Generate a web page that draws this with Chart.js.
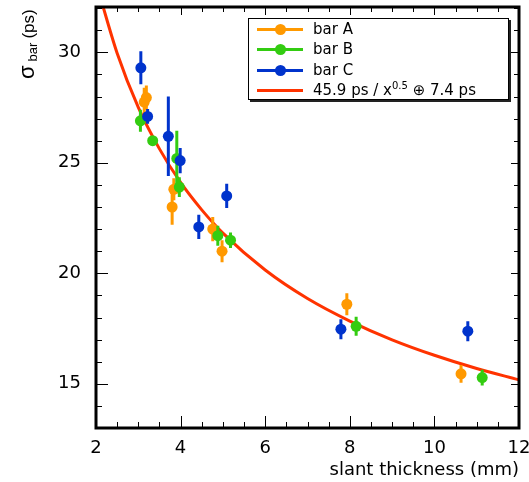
<!DOCTYPE html>
<html>
<head>
<meta charset="utf-8">
<script src="https://cdn.jsdelivr.net/npm/chart.js@4/dist/chart.umd.min.js"></script>
<style>
  html, body { margin: 0; padding: 0; background: #fff; }
  #wrap { position: relative; width: 529px; height: 482px; }
  #ytitle {
    position: absolute; left: 15px; top: 79px;
    transform: rotate(-90deg); transform-origin: left top;
    white-space: nowrap; font-family: 'Liberation Sans', sans-serif; color: #000;
    line-height: 24px;
  }
  #ytitle .sig { font-size: 22px; }
  #ytitle .sub { font-size: 13px; position: relative; top: 3px; margin-left: 4px; }
  #ytitle .ps { font-size: 17px; margin-left: 4px; }
  #leyenda {
    position: absolute; left: 248px; top: 18px; width: 259px; height: 80px;
    border: 1px solid #000; box-shadow: 2px 2px 0 #222; background: #fff;
    font-family: 'DejaVu Sans', sans-serif; font-size: 15px; color: #000;
  }
  #leyenda .fila { position: relative; height: 20.3px; line-height: 20.3px; padding-left: 64px; white-space: nowrap; }
  #leyenda .linea { position: absolute; left: 8px; top: 9px; width: 46px; height: 3px; }
  #leyenda .punto { position: absolute; left: 18px; top: -4px; width: 11px; height: 11px; border-radius: 50%; }
  #leyenda sup { font-size: 10px; vertical-align: 6px; line-height: 0; }
</style>
</head>
<body>
<div id="wrap">
  <canvas id="grafica" width="529" height="482"></canvas>
  <div id="ytitle"><span class="sig">σ</span><span class="sub">bar</span><span class="ps">(ps)</span></div>
  <div id="leyenda"></div>
</div>
<script>
'use strict';

// Datos
const nombresSeries = ['bar A', 'bar B', 'bar C'];
const coloresSeries = ['#ff9900', '#33cc11', '#0033cc'];

const xBarraA = [3.14, 3.19, 3.80, 3.84, 4.76, 4.98, 7.93, 10.63];
const yBarraA = [27.75, 27.95, 23.0, 23.8, 22.0, 21.0, 18.6, 15.45];
const errBarraA = [0.65, 0.55, 0.8, 0.5, 0.55, 0.5, 0.5, 0.4];

const xBarraB = [3.05, 3.34, 3.91, 3.97, 4.88, 5.18, 8.15, 11.13];
const yBarraB = [26.9, 26.0, 25.2, 23.9, 21.7, 21.5, 17.6, 15.28];
const errBarraB = [0.5, 0.1, 1.25, 0.45, 0.45, 0.35, 0.43, 0.36];

const xBarraC = [3.06, 3.22, 3.71, 3.99, 4.43, 5.09, 7.79, 10.79];
const yBarraC = [29.3, 27.1, 26.2, 25.1, 22.1, 23.5, 17.47, 17.38];
const errBarraC = [0.75, 0.33, 1.8, 0.57, 0.55, 0.55, 0.45, 0.45];

// Curva del ajuste
const textoAjuste = '45.9 ps / x<sup>0.5</sup> ⊕ 7.4 ps';
const colorAjuste = '#ff3300';
const xAjuste = [2.1, 2.5, 3, 3.5, 4, 4.5, 5, 6, 7, 8, 9, 10, 11, 12];
const yAjuste = [32.5, 29.96, 27.51, 25.63, 24.11, 22.87, 21.82, 20.15, 18.86, 17.84, 16.99, 16.29, 15.69, 15.18];

const ticksX = [2, 4, 6, 8, 10, 12];
const ticksY = [15, 20, 25, 30];

const series = [
    { x: xBarraA, y: yBarraA, err: errBarraA },
    { x: xBarraB, y: yBarraB, err: errBarraB },
    { x: xBarraC, y: yBarraC, err: errBarraC }
];

function puntos(xs, ys) {
    return xs.map((v, i) => ({ x: v, y: ys[i] }));
}

// Barras de error: segmentos separados por huecos (null)
function barrasError(xs, ys, errs) {
    const datos = [];
    xs.forEach((v, i) => {
        datos.push({ x: v, y: ys[i] - errs[i] });
        datos.push({ x: v, y: ys[i] + errs[i] });
        datos.push({ x: v, y: null });
    });
    return datos;
}

const datasets = [{
    type: 'line',
    label: 'ajuste',
    data: puntos(xAjuste, yAjuste),
    borderColor: colorAjuste,
    borderWidth: 3,
    pointRadius: 0,
    cubicInterpolationMode: 'monotone',
    order: 10
}];

series.forEach((s, i) => {
    datasets.push({
        type: 'line',
        label: nombresSeries[i] + ' err',
        data: barrasError(s.x, s.y, s.err),
        borderColor: coloresSeries[i],
        borderWidth: 3,
        pointRadius: 0,
        spanGaps: false,
        order: 7 - 2 * i
    });
    datasets.push({
        type: 'scatter',
        label: nombresSeries[i],
        data: puntos(s.x, s.y),
        backgroundColor: coloresSeries[i],
        borderWidth: 0,
        pointRadius: 5.5,
        order: 6 - 2 * i
    });
});

// Marco con marcas hacia dentro (estilo ROOT)
const marco = {
    id: 'marco',
    afterDraw(chart) {
        const { ctx, chartArea: a, scales: { x, y } } = chart;
        ctx.save();
        ctx.strokeStyle = '#000';
        ctx.lineWidth = 1;
        ctx.beginPath();
        for (let v = 2; v <= 12.001; v += 0.5) {
            const px = Math.round(x.getPixelForValue(v)) + 0.5;
            const mayor = Math.abs(v / 2 - Math.round(v / 2)) < 1e-6;
            ctx.moveTo(px, a.bottom); ctx.lineTo(px, a.bottom - (mayor ? 12 : 6));
            ctx.moveTo(px, a.top); ctx.lineTo(px, a.top + (mayor ? 8 : 5));
        }
        for (let v = 13; v <= 32; v++) {
            const py = Math.round(y.getPixelForValue(v)) + 0.5;
            const mayor = v % 5 === 0;
            ctx.moveTo(a.left, py); ctx.lineTo(a.left + (mayor ? 12 : 6), py);
            ctx.moveTo(a.right, py); ctx.lineTo(a.right - (mayor ? 8 : 5), py);
        }
        ctx.stroke();
        ctx.lineWidth = 3;
        ctx.strokeRect(a.left, a.top, a.right - a.left, a.bottom - a.top);
        ctx.restore();
    }
};

const fuenteEjes = { family: "'DejaVu Sans', sans-serif", size: 18 };

new Chart(document.getElementById('grafica').getContext('2d'), {
    data: { datasets },
    options: {
        responsive: false,
        animation: false,
        layout: { padding: { top: 7, right: 10, bottom: 0, left: 0 } },
        plugins: { legend: { display: false }, tooltip: { enabled: false } },
        scales: {
            x: {
                type: 'linear',
                min: 2, max: 12,
                grid: { display: false },
                border: { display: false },
                afterBuildTicks: (s) => { s.ticks = ticksX.map(v => ({ value: v })); },
                afterFit: (s) => { s.height = 54; s.paddingLeft = 0; s.paddingRight = 0; },
                ticks: { font: fuenteEjes, color: '#000', padding: 2, maxRotation: 0 },
                title: { display: true, text: 'slant thickness (mm)', align: 'end', font: fuenteEjes, color: '#000', padding: { top: 0, bottom: 1 } }
            },
            y: {
                type: 'linear',
                min: 13, max: 32.05,
                grid: { display: false },
                border: { display: false },
                afterBuildTicks: (s) => { s.ticks = ticksY.map(v => ({ value: v })); },
                afterFit: (s) => { s.width = 96; s.paddingTop = 0; s.paddingBottom = 0; },
                ticks: { font: fuenteEjes, color: '#000', padding: 7 }
            }
        }
    },
    plugins: [marco]
});

// Leyenda en HTML
const leyenda = document.getElementById('leyenda');
nombresSeries.forEach((nombre, i) => {
    leyenda.insertAdjacentHTML('beforeend',
        `<div class="fila"><span class="linea" style="background:${coloresSeries[i]}"><span class="punto" style="background:${coloresSeries[i]}"></span></span>${nombre}</div>`);
});
leyenda.insertAdjacentHTML('beforeend',
    `<div class="fila"><span class="linea" style="background:${colorAjuste}"></span>${textoAjuste}</div>`);
</script>
</body>
</html>
